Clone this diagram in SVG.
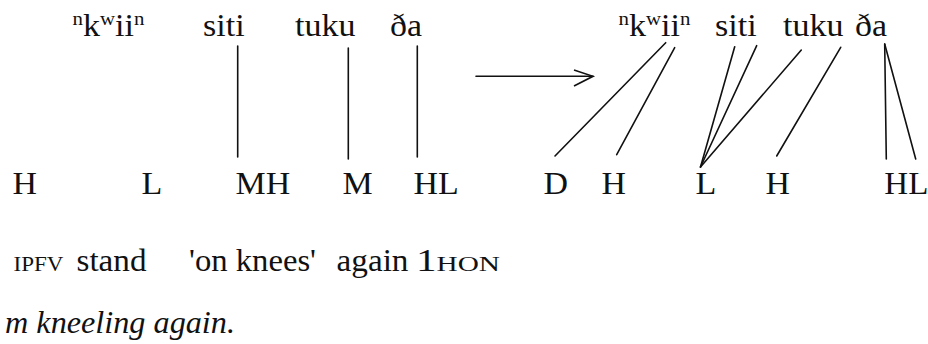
<svg xmlns="http://www.w3.org/2000/svg" width="928" height="344" viewBox="0 0 928 344">
<style>
text{font-family:"Liberation Serif","Times New Roman",serif;fill:#111;font-size:31px}
.tone{font-size:32px}
.sup{font-size:19px}
.sc{font-size:20px}
.sc2{font-size:22px}
.it{font-style:italic}
line{stroke:#111;stroke-width:1.6;fill:none;stroke-linecap:round}
</style>
<g id="left-segments">
<text id="l-kwiin" x="72.5" y="36" textLength="72" lengthAdjust="spacingAndGlyphs"><tspan class="sup" dy="-11">n</tspan><tspan dy="11">k</tspan><tspan class="sup" dy="-11">w</tspan><tspan dy="11">ii</tspan><tspan class="sup" dy="-11">n</tspan></text>
<text id="l-siti" x="203" y="36" textLength="41.6" lengthAdjust="spacingAndGlyphs">siti</text>
<text id="l-tuku" x="295" y="36" textLength="60.5" lengthAdjust="spacingAndGlyphs">tuku</text>
<text id="l-da" x="390" y="36" textLength="32" lengthAdjust="spacingAndGlyphs">ða</text>
</g>
<g id="left-tones">
<text id="lt-H" class="tone" x="12.4" y="194" textLength="24.5" lengthAdjust="spacingAndGlyphs">H</text>
<text id="lt-L" class="tone" x="141.5" y="194" textLength="20.8" lengthAdjust="spacingAndGlyphs">L</text>
<text id="lt-MH" class="tone" x="235.5" y="194" textLength="54.8" lengthAdjust="spacingAndGlyphs">MH</text>
<text id="lt-M" class="tone" x="342.5" y="194" textLength="30.2" lengthAdjust="spacingAndGlyphs">M</text>
<text id="lt-HL" class="tone" x="413.5" y="194" textLength="45.3" lengthAdjust="spacingAndGlyphs">HL</text>
</g>
<g id="right-segments">
<text id="r-kwiin" x="618.5" y="36" textLength="72" lengthAdjust="spacingAndGlyphs"><tspan class="sup" dy="-11">n</tspan><tspan dy="11">k</tspan><tspan class="sup" dy="-11">w</tspan><tspan dy="11">ii</tspan><tspan class="sup" dy="-11">n</tspan></text>
<text id="r-siti" x="715" y="36" textLength="41.6" lengthAdjust="spacingAndGlyphs">siti</text>
<text id="r-tuku" x="783" y="36" textLength="60.5" lengthAdjust="spacingAndGlyphs">tuku</text>
<text id="r-da" x="855" y="36" textLength="32" lengthAdjust="spacingAndGlyphs">ða</text>
</g>
<g id="right-tones">
<text id="rt-D" class="tone" x="543.5" y="194" textLength="24.5" lengthAdjust="spacingAndGlyphs">D</text>
<text id="rt-H1" class="tone" x="601.5" y="194" textLength="24.5" lengthAdjust="spacingAndGlyphs">H</text>
<text id="rt-L" class="tone" x="695.5" y="194" textLength="20.8" lengthAdjust="spacingAndGlyphs">L</text>
<text id="rt-H2" class="tone" x="765.5" y="194" textLength="24.5" lengthAdjust="spacingAndGlyphs">H</text>
<text id="rt-HL" class="tone" x="884.3" y="194" textLength="44" lengthAdjust="spacingAndGlyphs">HL</text>
</g>
<g id="connectors">
<line x1="237.7" y1="46" x2="237.7" y2="157"/>
<line x1="348.3" y1="48" x2="348.3" y2="159"/>
<line x1="417.3" y1="46" x2="417.3" y2="157"/>
<line x1="476" y1="76.3" x2="593" y2="76.3"/>
<polyline points="574,70 593,76.3 574,86" style="fill:none;stroke:#111;stroke-width:1.6"/>
<line x1="665.7" y1="42.7" x2="555" y2="156"/>
<line x1="674.7" y1="47.7" x2="616.7" y2="154.7"/>
<line x1="734.7" y1="46.7" x2="700.5" y2="167"/>
<line x1="756.7" y1="45.7" x2="700.5" y2="167"/>
<line x1="801.3" y1="50" x2="700.5" y2="167"/>
<line x1="840.7" y1="47.3" x2="776.7" y2="156"/>
<line x1="884.7" y1="44" x2="886.3" y2="159"/>
<line x1="884.7" y1="44" x2="915.7" y2="159"/>
</g>
<g id="gloss">
<text class="sc" x="13.5" y="271" textLength="50" lengthAdjust="spacingAndGlyphs">IPFV</text>
<text x="76.5" y="271" textLength="70" lengthAdjust="spacingAndGlyphs">stand</text>
<text x="189" y="271" textLength="127" lengthAdjust="spacingAndGlyphs">'on knees'</text>
<text x="336.5" y="271" textLength="72" lengthAdjust="spacingAndGlyphs">again</text>
<text x="416" y="271" textLength="84" lengthAdjust="spacingAndGlyphs">1<tspan class="sc2">HON</tspan></text>
</g>
<g id="translation">
<text class="it" x="5" y="333" textLength="230" lengthAdjust="spacingAndGlyphs">m kneeling again.</text>
</g>
</svg>
